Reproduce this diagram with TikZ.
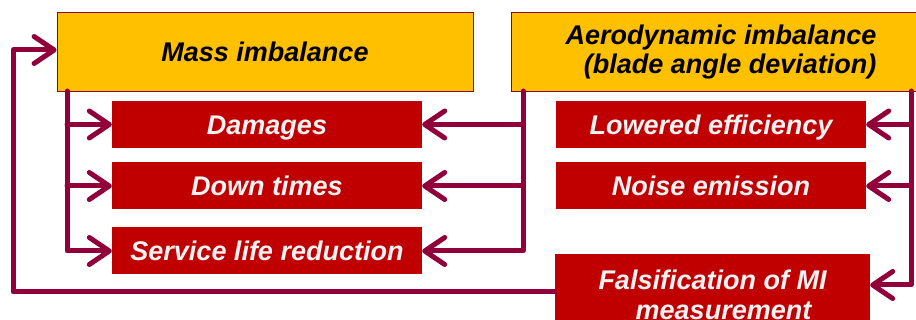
\documentclass[tikz,border=0pt]{standalone}
\usepackage{fontspec}
\setmainfont{Liberation Sans}
\usetikzlibrary{arrows.meta}
\definecolor{linkred}{RGB}{146,0,60}
\definecolor{boxred}{RGB}{192,0,0}
\definecolor{boxyellow}{RGB}{255,192,0}
\definecolor{paleWhite}{RGB}{242,242,242}

\begin{document}
\begin{tikzpicture}[x=1pt,y=1pt,
  cause/.style={fill=boxyellow,draw=linkred,line width=0.8pt,inner sep=0pt,
    minimum width=416pt,minimum height=79pt,
    font=\fontsize{27}{29}\selectfont\bfseries\itshape},
  redbox/.style={fill=boxred,text=paleWhite,inner sep=0pt,
    minimum width=310pt,minimum height=47pt,
    font=\fontsize{27}{30}\selectfont\bfseries\itshape},
  effect/.style={redbox,text height=20pt,text depth=0pt},
  link/.style={draw=linkred,line width=5pt,line cap=round,line join=round},
  tip/.style={link,-{Straight Barb[length=20pt,width=27pt,round]}}
]
\useasboundingbox (0,0) rectangle (916,320);

% causes
\node[cause] (mass) at (265,268.5) {Mass imbalance};
\node[cause,minimum width=420pt,align=right] (aero) at (721,268)
  {Aerodynamic imbalance\\(blade angle deviation)};

% effects
\node[effect] (dam) at (267,195.5) {Damages};
\node[effect] (down) at (267,134) {Down times};
\node[effect] (life) at (267,69) {Service life reduction};
\node[effect] (eff) at (711,195.5) {Lowered efficiency};
\node[effect] (noise) at (711,134) {Noise emission};
\node[redbox,minimum width=315pt,minimum height=81pt,align=center] (fals) at (712.5,25.5)
  {Falsification of MI\\\hspace{22pt}measurement};

% buses
\coordinate (lbus) at (67,229);
\coordinate (abus) at (523,229);
\coordinate (rbus) at (911,229);

\draw[tip] (lbus) |- (life.west);
\draw[tip] (abus) |- (life.east);
\draw[tip] (rbus) |- ([yshift=9.5pt]fals.east);
\foreach \n in {dam,down} {
  \draw[tip] (lbus |- \n.west) -- (\n.west);
  \draw[tip] (abus |- \n.east) -- (\n.east);
}
\foreach \n in {eff,noise}
  \draw[tip] (rbus |- \n.east) -- (\n.east);

% feedback
\draw[tip] ([yshift=2.5pt]fals.west) -| (13,270) -- (mass.west |- 0,270);

\end{tikzpicture}
\end{document}
